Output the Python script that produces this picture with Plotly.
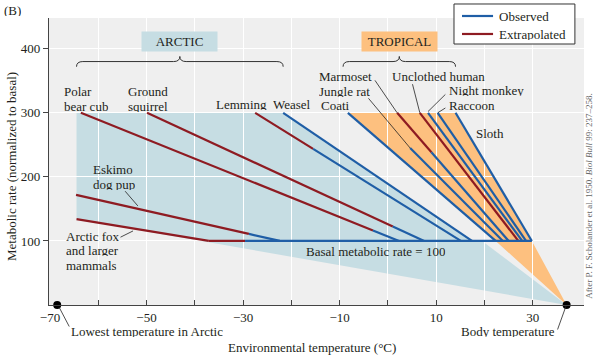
import plotly.graph_objects as go

# ---------------- data ----------------
species = ["Arctic fox", "Eskimo dog pup", "Polar bear cub", "Ground squirrel",
           "Lemming", "Weasel", "Coati", "Jungle rat", "Marmoset",
           "Unclothed human", "Night monkey", "Raccoon", "Sloth"]
# start of each line (temperature, metabolic rate)
x_start = [-64.5, -64.6, -63.6, -49.9, -27.5, -21.7, -8.3, 4.6, 1.9, 6.6, 8.3, 10.3, 14.0]
y_start = [134, 172, 300, 300, 300, 300, 300, 245, 300, 300, 300, 300, 300]
# temperature where each line reaches basal rate (100)
x_basal = [-37.1, -22.4, 2.3, 7.5, 15.1, 17.4, 22.3, 23.8, 25.0, 27.0, 27.8, 28.6, 29.8]
# temperature from which the line is observed (None = fully extrapolated)
x_observed_from = [None, -28.8, -3.1, 1.0, -15.5, -21.7, -8.3, 4.6, 9.0, None, 8.3, 10.3, 14.0]

basal_rate = 100
basal_extrap_from = -37.1
basal_observed_from = -29.6
basal_end = 29.8
body_temp = 37
lowest_arctic_temp = -68.5
arctic_region_basal_edge = 19.5

x_ticks = [-70, -60, -50, -40, -30, -20, -10, 0, 10, 20, 30]
x_tick_labels = ["\u221270", "", "\u221250", "", "\u221230", "", "\u221210", "", "10", "", "30"]
y_ticks = [100, 200, 300, 400]
y_tick_labels = ["100", "200", "300", "400"]

# ---------------- style ----------------
BLUE = "#1f5ea6"
RED = "#8e1b22"
ARCTIC_FILL = "#c6dde3"
TROPIC_FILL = "#fdc07f"
BG = "#efefef"
TXT = "#231f20"
FONT = "Liberation Serif"
FS = 13

fig = go.Figure()


def seg(x0, y0, x1, y1, kind):
    color = BLUE if kind == "obs" else RED
    fig.add_trace(go.Scatter(x=[x0, x1], y=[y0, y1], mode="lines",
                             line=dict(color=color, width=2.2),
                             showlegend=False, hoverinfo="skip"))


for i in range(len(species)):
    xs, ys, xe, ye = x_start[i], y_start[i], x_basal[i], basal_rate
    xo = x_observed_from[i]

    def y_at(x):
        return ys + (ye - ys) * (x - xs) / (xe - xs)

    if xo is None:
        seg(xs, ys, xe, ye, "ext")
    elif xo <= xs:
        seg(xs, ys, xe, ye, "obs")
    else:
        seg(xs, ys, xo, y_at(xo), "ext")
        seg(xo, y_at(xo), xe, ye, "obs")

# basal line
seg(basal_extrap_from, basal_rate, basal_observed_from, basal_rate, "ext")
seg(basal_observed_from, basal_rate, basal_end, basal_rate, "obs")

# dots
fig.add_trace(go.Scatter(x=[lowest_arctic_temp, body_temp], y=[0, 0], mode="markers",
                         marker=dict(color="black", size=8), showlegend=False,
                         cliponaxis=False, hoverinfo="skip"))


# ---------------- regions ----------------
def poly(points):
    return "M " + " L ".join(f"{x},{y}" for x, y in points) + " Z"


arctic_region = [(x_start[0], 300), (x_start[5], 300), (x_basal[5], basal_rate),
                 (arctic_region_basal_edge, basal_rate), (body_temp, 0), (x_start[0], y_start[0])]
tropic_region = [(x_start[6], 300), (x_start[12], 300), (x_basal[12], basal_rate),
                 (body_temp, 0), (x_basal[6], basal_rate)]
fig.add_shape(type="path", path=poly(arctic_region), xref="x", yref="y",
              fillcolor=ARCTIC_FILL, line=dict(width=0), layer="below")
fig.add_shape(type="path", path=poly(tropic_region), xref="x", yref="y",
              fillcolor=TROPIC_FILL, line=dict(width=0), layer="below")


# braces
def brace(x0, x1, yb=380, h=8, dx=1.3):
    xm = (x0 + x1) / 2
    p = (f"M {x0},{yb - h} Q {x0},{yb} {x0 + dx},{yb} L {xm - dx},{yb} "
         f"Q {xm},{yb} {xm},{yb + h} Q {xm},{yb} {xm + dx},{yb} L {x1 - dx},{yb} "
         f"Q {x1},{yb} {x1},{yb - h}")
    fig.add_shape(type="path", path=p, xref="x", yref="y",
                  line=dict(color="#333", width=1), layer="above")
    return xm


xa = brace(x_start[0], x_start[5])
xt = brace(x_start[6] - 1.0, x_start[12])


def box(text, x, color):
    fig.add_annotation(x=x, y=411, xref="x", yref="y", text=text, showarrow=False,
                       bgcolor=color, width=71, height=15, borderpad=2,
                       font=dict(family=FONT, size=FS, color=TXT))


box("ARCTIC", xa, ARCTIC_FILL)
box("TROPICAL", xt, TROPIC_FILL)


def label(text, x, y, anchor="left", xref="x", yref="y", size=FS):
    fig.add_annotation(x=x, y=y, xref=xref, yref=yref, text=text, showarrow=False,
                       xanchor=anchor, yanchor="middle", height=12, borderpad=0,
                       font=dict(family=FONT, size=size, color=TXT))


def leader(x0, y0, x1, y1):
    fig.add_annotation(x=x1, y=y1, ax=x0, ay=y0, xref="x", yref="y", axref="x", ayref="y",
                       text="", showarrow=True, arrowhead=0, arrowwidth=0.8,
                       arrowcolor="#222", standoff=0, startstandoff=0)


def paper_leader(x, y, ax, ay):
    fig.add_annotation(x=x, y=y, xref="paper", yref="paper", ax=ax, ay=ay,
                       axref="pixel", ayref="pixel", text="", showarrow=True,
                       arrowhead=0, arrowwidth=0.8, arrowcolor="#222",
                       standoff=0, startstandoff=0)


label("Polar", -67.3, 334)
label("bear cub", -67.3, 311)
label("Ground", -54.0, 334)
label("squirrel", -54.0, 311)
label("Lemming", -35.8, 313)
label("Weasel", -24.0, 313)
label("Coati", -14.1, 312)
label("Marmoset", -14.5, 357)
label("Jungle rat", -14.5, 334)
label("Unclothed human", 0.6, 357)
label("Night monkey", 12.4, 335)
label("Raccoon", 12.4, 312)
label("Sloth", 18.0, 268.7)
label("Eskimo", -61.3, 212)
label("dog pup", -61.3, 189.5)
label("Arctic fox", -66.9, 107.8)
label("and larger", -66.9, 85.4)
label("mammals", -66.9, 62.5)
label("Basal metabolic rate = 100", -17.2, 84.4)

leader(-2.9, 353, x_start[8], y_start[8])
leader(-4.3, 325, x_start[7], y_start[7])
leader(5.0, 347, x_start[9], y_start[9])
leader(12.2, 331, x_start[10], y_start[10] + 2)
leader(12.2, 309, x_start[11], y_start[11])
leader(-54.7, 180, -51.8, 154.7)
leader(-55.7, 104.7, -52.8, 115.6)

# labels below the axis (paper coordinates)
label("Lowest temperature in Arctic", 0.0393, -0.0906, xref="paper", yref="paper")
label("Body temperature", 0.9477, -0.0906, anchor="right", xref="paper", yref="paper")
paper_leader(0.0187, -0.007, 11, 21)
paper_leader(0.9664, -0.0035, -9, 25)

# titles / misc text
label("(B)", -0.086, 1.028, xref="paper", yref="paper")
fig.add_annotation(x=-0.069, y=0.481, xref="paper", yref="paper", textangle=-90,
                   xanchor="center", yanchor="middle",
                   text="Metabolic rate (normalized to basal)", showarrow=False,
                   font=dict(family=FONT, size=FS, color=TXT))
fig.add_annotation(x=0.4925, y=-0.1498, xref="paper", yref="paper",
                   xanchor="center", yanchor="middle",
                   text="Environmental temperature (\u00b0C)", showarrow=False,
                   font=dict(family=FONT, size=FS, color=TXT))
fig.add_annotation(x=1.009, y=0.380, xref="paper", yref="paper", textangle=-90,
                   xanchor="center", yanchor="middle",
                   text="After P. F. Scholander et al. 1950. <i>Biol Bull</i> 99: 237\u2013258.",
                   showarrow=False,
                   font=dict(family="Liberation Sans Narrow", size=9, color="#666"))

# ---------------- legend (drawn) ----------------
legend_items = ["Observed", "Extrapolated"]
legend_colors = [BLUE, RED]
fig.add_shape(type="rect", xref="paper", yref="paper", x0=0.757, x1=0.983, y0=0.9094, y1=1.0488,
              fillcolor="white", line=dict(color="#333", width=1), layer="above")
for k, (name, col) in enumerate(zip(legend_items, legend_colors)):
    yy = 1.007 - k * 0.0627
    fig.add_shape(type="line", xref="paper", yref="paper", x0=0.772, x1=0.830, y0=yy, y1=yy,
                  line=dict(color=col, width=2.2), layer="above")
    label(name, 0.8393, yy, xref="paper", yref="paper")

fig.update_layout(
    width=600, height=358,
    margin=dict(l=49, r=16, t=18, b=53),
    paper_bgcolor="white", plot_bgcolor=BG,
    showlegend=False,
    font=dict(family=FONT, size=FS, color=TXT),
)
fig.update_xaxes(range=[-70.2, 40.6], tickmode="array", tickvals=x_ticks, ticktext=x_tick_labels,
                 ticks="inside", ticklen=5, tickcolor="#444", showline=True, linecolor="#444",
                 linewidth=1.2, showgrid=True, gridcolor="white", gridwidth=1, zeroline=False,
                 tickfont=dict(family=FONT, size=FS, color=TXT), automargin=False)
fig.update_yaxes(range=[0, 448], tickmode="array", tickvals=y_ticks, ticktext=y_tick_labels,
                 ticks="outside", ticklen=5, tickcolor="#444", showline=True, linecolor="#444",
                 linewidth=1.2, showgrid=True, gridcolor="white", gridwidth=1, zeroline=False,
                 tickfont=dict(family=FONT, size=FS, color=TXT), automargin=False)

fig.write_html("out.html", config={"displayModeBar": False},
               post_script="document.body.style.margin='0';document.body.style.padding='0';")
